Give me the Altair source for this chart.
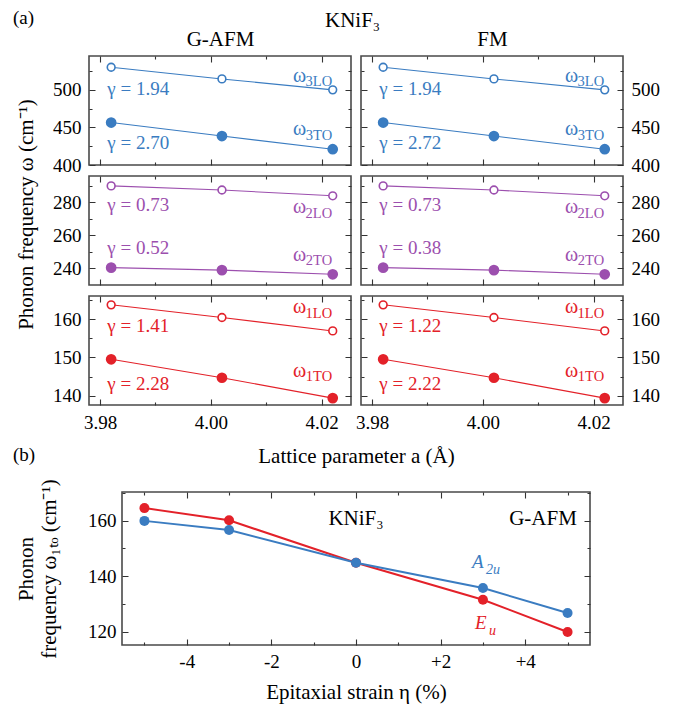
import altair as alt
import pandas as pd

FONT = "Liberation Serif"
BLUE = "#3a7cc1"
PURPLE = "#9c4fae"
RED = "#e32129"
FRAME = "#4a4a4a"
TICK = "#333333"

# ---------------- panel (a) data ----------------
lattice_a = [3.982, 4.002, 4.022]

gafm_w3lo = [530.0, 514.5, 500.0]
gafm_w3to = [456.5, 438.5, 421.0]
gafm_w2lo = [290.0, 287.5, 284.0]
gafm_w2to = [240.5, 239.0, 236.5]
gafm_w1lo = [163.7, 160.4, 156.9]
gafm_w1to = [149.5, 144.7, 139.4]

fm_w3lo = [530.0, 514.5, 500.0]
fm_w3to = [456.5, 438.5, 421.0]
fm_w2lo = [290.0, 287.5, 284.0]
fm_w2to = [240.5, 239.0, 236.5]
fm_w1lo = [163.7, 160.4, 156.9]
fm_w1to = [149.5, 144.7, 139.4]

gafm_gamma = ["1.94", "2.70", "0.73", "0.52", "1.41", "2.28"]
fm_gamma = ["1.94", "2.72", "0.73", "0.38", "1.22", "2.22"]
mode_subscripts = ["3LO", "3TO", "2LO", "2TO", "1LO", "1TO"]
order_titles = ["G-AFM", "FM"]

lattice_ticks = [3.98, 3.99, 4.00, 4.01, 4.02]
row_ticks = [
    [400, 425, 450, 475, 500, 525],
    [240, 250, 260, 270, 280, 290],
    [140, 145, 150, 155, 160, 165],
]

# ---------------- panel (b) data ----------------
strain = [-5, -3, 0, 3, 5]
w1to_eu = [164.5, 160.1, 144.8, 131.5, 119.9]
w1to_a2u = [159.9, 156.6, 144.8, 135.7, 126.7]
strain_ticks = [-5, -4, -3, -2, -1, 0, 1, 2, 3, 4, 5]
freq_ticks_b = [120, 130, 140, 150, 160, 170]

# ---------------- layout config ----------------
ORDER_DATA = {
    0: [gafm_w3lo, gafm_w3to, gafm_w2lo, gafm_w2to, gafm_w1lo, gafm_w1to],
    1: [fm_w3lo, fm_w3to, fm_w2lo, fm_w2to, fm_w1lo, fm_w1to],
}
ORDER_GAMMA = {0: gafm_gamma, 1: fm_gamma}

ROWS = [
    dict(domain=[400, 545], major=50, color=BLUE, gamma_y=[500.7, 428.9], omega_y=[510.8, 439.9]),
    dict(domain=[230, 296], major=20, color=PURPLE, gamma_y=[278.4, 252.2], omega_y=[273.4, 244.7]),
    dict(domain=[137.6, 166], major=10, color=RED, gamma_y=[158.3, 143.1], omega_y=[161.5, 145.0]),
]
X_DOMAIN_A = [3.978, 4.0253]
GAMMA_X = 3.9813
OMEGA_X = 4.0219
PW, PH = 262, 109
BW, BH = 468, 153
GAP_AB = -23


def make_axis(orient, values, major_test, label_expr, labels, **kw):
    return alt.Axis(
        orient=orient,
        values=values,
        labels=labels,
        labelExpr=f"({major_test}) ? ({label_expr}) : ''",
        domain=False,
        grid=False,
        offset=-6,
        tickSize=6,
        tickWidth=1.1,
        tickColor=TICK,
        tickDash={"condition": {"test": f"!({major_test})", "value": [0, 3, 10]}, "value": [1, 0]},
        labelFont=FONT,
        labelFontSize=19,
        labelColor="black",
        labelFlush=False,
        labelOverlap=False,
        titleFont=FONT,
        titleFontSize=21,
        titleFontWeight="normal",
        titleColor="black",
        **kw,
    )


def panel_a(row, col):
    cfg = ROWS[row]
    c = cfg["color"]
    lo = ORDER_DATA[col][2 * row]
    to = ORDER_DATA[col][2 * row + 1]
    gam = ORDER_GAMMA[col][2 * row: 2 * row + 2]
    df = pd.DataFrame({"x": lattice_a * 2, "y": lo + to, "kind": ["LO"] * 3 + ["TO"] * 3})
    xs = alt.Scale(domain=X_DOMAIN_A, nice=False, zero=False)
    ys = alt.Scale(domain=cfg["domain"], nice=False, zero=False)
    Xn = alt.X("x:Q", scale=xs, axis=None)
    Yn = alt.Y("y:Q", scale=ys, axis=None)
    base = alt.Chart(df)

    line = base.mark_line(color=c, strokeWidth=1.1).encode(Xn, Yn, detail="kind:N")
    lo_pts = base.transform_filter("datum.kind == 'LO'").mark_circle(
        fill="white", stroke=c, strokeWidth=1.6, size=60, opacity=1
    ).encode(Xn, Yn)
    to_pts = base.transform_filter("datum.kind == 'TO'").mark_circle(
        color=c, size=115, opacity=1
    ).encode(Xn, Yn)

    gdf = pd.DataFrame({"x": [GAMMA_X] * 2, "y": cfg["gamma_y"], "t": ["γ = " + g for g in gam]})
    gtxt = alt.Chart(gdf).mark_text(
        align="left", baseline="middle", fontSize=19, color=c, font=FONT
    ).encode(Xn, Yn, text="t:N")

    odf = pd.DataFrame({
        "x": [OMEGA_X] * 2, "y": cfg["omega_y"], "w": ["ω", "ω"],
        "sub": mode_subscripts[2 * row: 2 * row + 2],
    })
    otxt = alt.Chart(odf).mark_text(
        align="right", baseline="alphabetic", fontSize=20, dx=-26, color=c, font=FONT
    ).encode(Xn, Yn, text="w:N")
    osub = alt.Chart(odf).mark_text(
        align="right", baseline="alphabetic", fontSize=14.5, dy=4.5, color=c, font=FONT
    ).encode(Xn, Yn, text="sub:N")

    major_y = f"datum.value % {cfg['major']} == 0"
    major_x = "round(datum.value * 100) % 2 == 0"

    if row == 2 and col == 0:
        xb_title = "Lattice parameter a (Å)"
        xb_kw = dict(titleX=267, titleY=63, titleBaseline="alphabetic", titleAlign="center")
    else:
        xb_title = None
        xb_kw = {}
    if row == 1 and col == 0:
        yl_title = "Phonon frequency ω (cm⁻¹)"
        yl_kw = dict(titleX=-63, titleY=38, titleAngle=270, titleBaseline="alphabetic", titleAlign="center")
    else:
        yl_title = None
        yl_kw = {}
    ax1 = base.mark_point(opacity=0).encode(
        alt.X("x:Q", scale=xs, title=xb_title,
              axis=make_axis("bottom", lattice_ticks, major_x, "format(datum.value, '.2f')",
                             labels=(row == 2), labelPadding=8, **xb_kw)),
        alt.Y("y:Q", scale=ys, title=yl_title,
              axis=make_axis("left", row_ticks[row], major_y, "datum.label",
                             labels=(col == 0), labelPadding=8, **yl_kw)),
    )

    if row == 0:
        xt_title = order_titles[col]
        xt_kw = dict(titleX=PW / 2, titleY=-17, titleBaseline="alphabetic", titleAlign="center")
    else:
        xt_title = None
        xt_kw = {}
    ax2 = base.mark_point(opacity=0).encode(
        alt.X("x:Q", scale=xs, title=xt_title,
              axis=make_axis("top", lattice_ticks, major_x, "format(datum.value, '.2f')",
                             labels=False, **xt_kw)),
        alt.Y("y:Q", scale=ys, title=None,
              axis=make_axis("right", row_ticks[row], major_y, "datum.label",
                             labels=(col == 1), labelPadding=8)),
    )

    props = dict(width=PW, height=PH)
    if row == 0 and col == 0:
        props["title"] = alt.TitleParams(
            "(a)", anchor="start", frame="group", dx=-76, offset=-15,
            baseline="alphabetic", fontSize=19, font=FONT, fontWeight="normal", color="black")
    if row == 0 and col == 1:
        props["title"] = alt.TitleParams(
            "KNiF₃", anchor="start", frame="group", dx=-36, offset=-20,
            baseline="alphabetic", fontSize=21, font=FONT, fontWeight="normal", color="black")

    return alt.layer(line, lo_pts, to_pts, gtxt, otxt, osub, ax1, ax2).resolve_axis(
        x="independent", y="independent"
    ).properties(**props)


def panel_b():
    df = pd.DataFrame({
        "eta": strain * 2,
        "w": w1to_eu + w1to_a2u,
        "mode": ["Eu"] * 5 + ["A2u"] * 5,
    })
    xs = alt.Scale(domain=[-5.53, 5.53], nice=False, zero=False)
    ys = alt.Scale(domain=[115.2, 170.3], nice=False, zero=False)
    Xn = alt.X("eta:Q", scale=xs, axis=None)
    Yn = alt.Y("w:Q", scale=ys, axis=None)
    base = alt.Chart(df)
    eu = base.transform_filter("datum.mode == 'Eu'")
    a2 = base.transform_filter("datum.mode == 'A2u'")
    red_line = eu.mark_line(color=RED, strokeWidth=2).encode(Xn, Yn)
    red_pts = eu.mark_circle(color=RED, size=100, opacity=1).encode(Xn, Yn)
    blue_line = a2.mark_line(color=BLUE, strokeWidth=2).encode(Xn, Yn)
    blue_pts = a2.mark_circle(color=BLUE, size=100, opacity=1).encode(Xn, Yn)

    lab_df = pd.DataFrame({"eta": [0.0], "w": [158.4], "t": ["KNiF₃"]})
    lab1 = alt.Chart(lab_df).mark_text(
        align="center", baseline="alphabetic", fontSize=21, color="black", font=FONT
    ).encode(Xn, Yn, text="t:N")
    lab_df2 = pd.DataFrame({"eta": [5.22], "w": [158.4], "t": ["G-AFM"]})
    lab2 = alt.Chart(lab_df2).mark_text(
        align="right", baseline="alphabetic", fontSize=21, color="black", font=FONT
    ).encode(Xn, Yn, text="t:N")

    a_df = pd.DataFrame({"eta": [2.74], "w": [142.95], "t": ["A"], "s": ["2u"]})
    e_df = pd.DataFrame({"eta": [2.81], "w": [121.1], "t": ["E"], "s": ["u"]})
    a_main = alt.Chart(a_df).mark_text(
        align="left", baseline="alphabetic", fontSize=19, fontStyle="italic", color=BLUE, font=FONT
    ).encode(Xn, Yn, text="t:N")
    a_sub = alt.Chart(a_df).mark_text(
        align="left", baseline="alphabetic", fontSize=14, fontStyle="italic", color=BLUE, font=FONT,
        dx=14, dy=6
    ).encode(Xn, Yn, text="s:N")
    e_main = alt.Chart(e_df).mark_text(
        align="left", baseline="alphabetic", fontSize=19, fontStyle="italic", color=RED, font=FONT
    ).encode(Xn, Yn, text="t:N")
    e_sub = alt.Chart(e_df).mark_text(
        align="left", baseline="alphabetic", fontSize=14, fontStyle="italic", color=RED, font=FONT,
        dx=14, dy=6
    ).encode(Xn, Yn, text="s:N")

    major_x = "abs(datum.value) % 2 == 0"
    major_y = "datum.value % 20 == 0"
    x_lab = "datum.value > 0 ? '+' + datum.value : '' + datum.value"

    ax1 = base.mark_point(opacity=0).encode(
        alt.X("eta:Q", scale=xs, title="Epitaxial strain η (%)",
              axis=make_axis("bottom", strain_ticks, major_x, x_lab, labels=True, labelPadding=7,
                             titleX=BW / 2, titleY=59, titleBaseline="alphabetic", titleAlign="center")),
        alt.Y("w:Q", scale=ys, title=["Phonon", "frequency ω₁ₜₒ (cm⁻¹)"],
              axis=make_axis("left", freq_ticks_b, major_y, "datum.label", labels=True, labelPadding=6,
                             titleX=-96, titleY=BH / 2, titleAngle=270, titleBaseline="alphabetic",
                             titleAlign="center", titleLineHeight=23)),
    )
    ax2 = base.mark_point(opacity=0).encode(
        alt.X("eta:Q", scale=xs, title=None,
              axis=make_axis("top", strain_ticks, major_x, x_lab, labels=False)),
        alt.Y("w:Q", scale=ys, title=None,
              axis=make_axis("right", freq_ticks_b, major_y, "datum.label", labels=False)),
    )
    return alt.layer(
        red_line, red_pts, blue_line, blue_pts, lab1, lab2, a_main, a_sub, e_main, e_sub, ax1, ax2
    ).resolve_axis(x="independent", y="independent").properties(
        width=BW, height=BH,
        title=alt.TitleParams(
            "(b)", anchor="start", frame="group", dx=-109, offset=-1,
            baseline="alphabetic", fontSize=19, font=FONT, fontWeight="normal", color="black"),
    )


cells = [panel_a(r, c) for r in range(3) for c in range(2)]
grid_a = alt.concat(*cells, columns=2, spacing={"row": 11, "column": 10}, bounds="flush")

spacer = alt.Chart(pd.DataFrame({"v": [0]})).mark_point(opacity=0).properties(
    width=33, height=BH, view=alt.ViewBackground(stroke="transparent")
)
block_b = alt.hconcat(spacer, panel_b(), spacing=0, bounds="flush")

chart = alt.vconcat(
    grid_a, block_b, spacing=GAP_AB, bounds="full",
    padding={"left": 4, "top": 0, "right": 5, "bottom": 5},
).configure(font=FONT).configure_view(stroke=FRAME, strokeWidth=1.6).configure_title(
    font=FONT, fontWeight="normal", color="black"
)

chart.save("out.html", embed_options={"renderer": "svg", "actions": False})
